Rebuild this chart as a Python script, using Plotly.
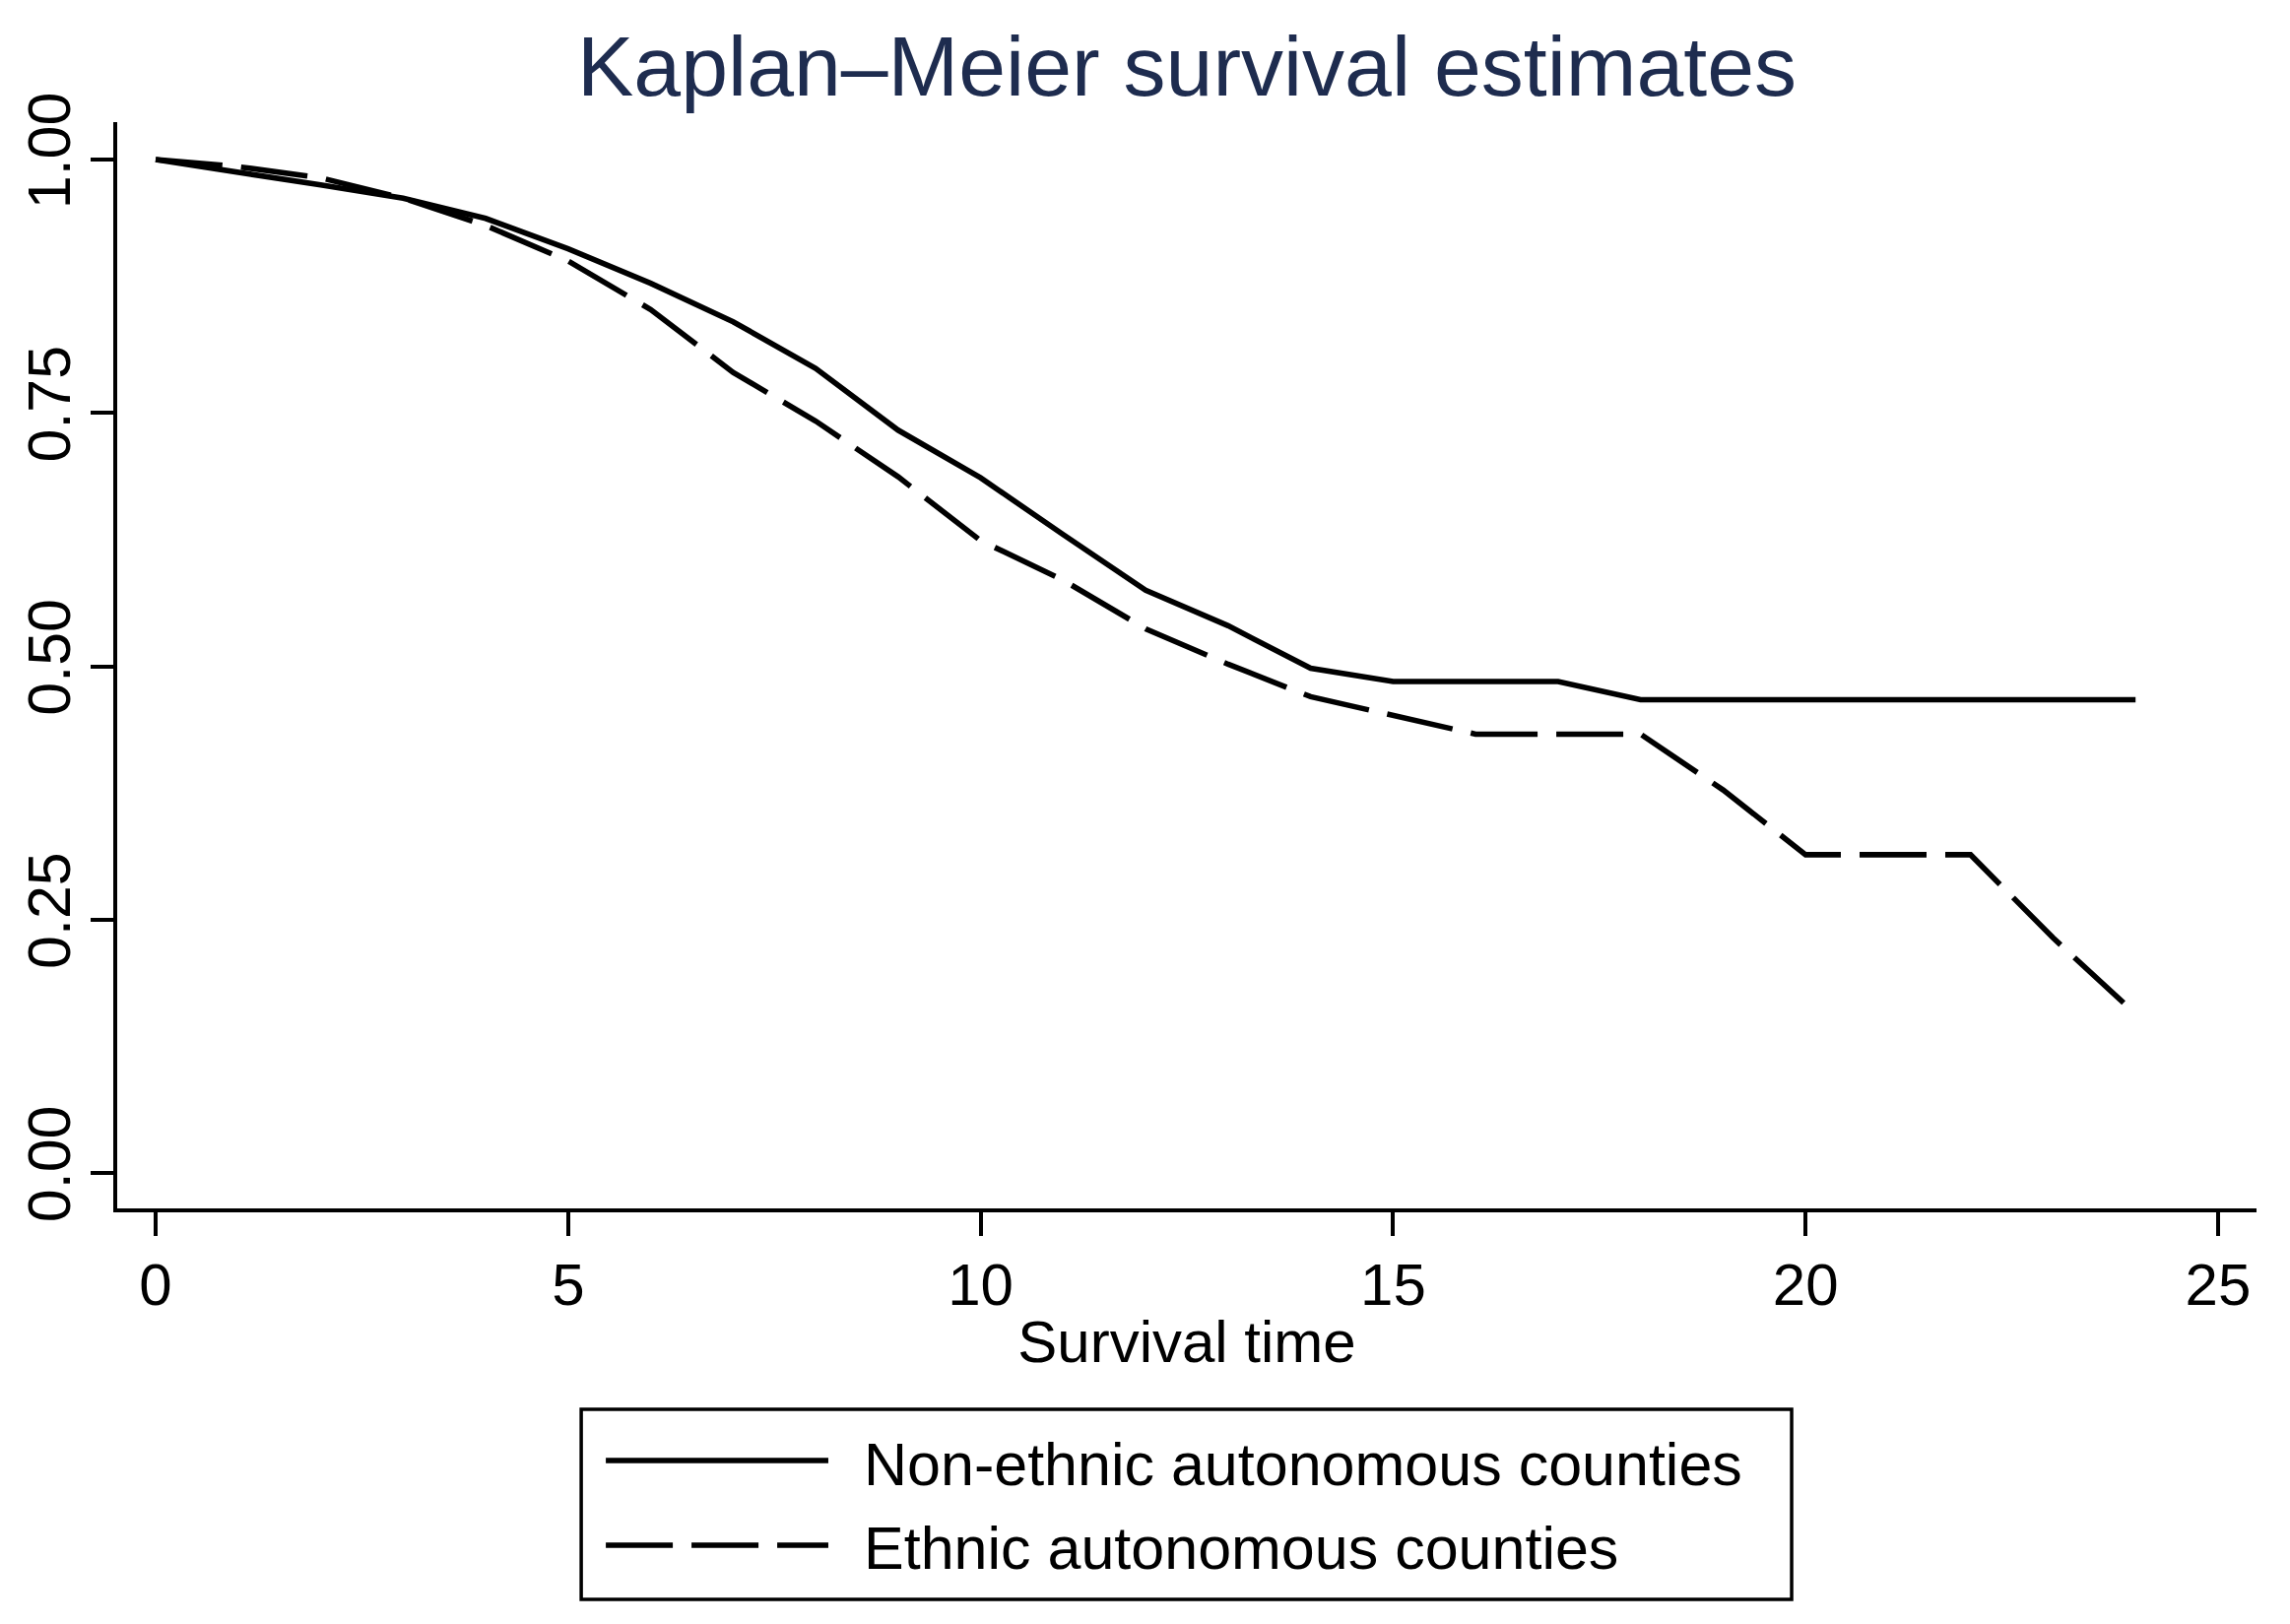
import plotly.graph_objects as go

# ---- data ----
time = list(range(0, 25))
non_ethnic = [1.000, 0.988, 0.975, 0.962, 0.942, 0.912, 0.878, 0.840, 0.794, 0.733,
              0.686, 0.630, 0.575, 0.540, 0.498, 0.485, 0.485, 0.485, 0.467, 0.467,
              0.467, 0.467, 0.467, 0.467, 0.467]
ethnic = [1.000, 0.993, 0.982, 0.962, 0.935, 0.900, 0.852, 0.790, 0.742, 0.687,
          0.624, 0.585, 0.537, 0.502, 0.470, 0.451, 0.433, 0.433, 0.433, 0.378,
          0.314, 0.314, 0.314, 0.232, 0.157]
series_names = ["Non-ethnic autonomous counties", "Ethnic autonomous counties"]
x_ticks = [0, 5, 10, 15, 20, 25]
y_ticks = [0, 0.25, 0.5, 0.75, 1.0]
title_text = "Kaplan–Meier survival estimates"
x_title = "Survival time"

FONT = "Arial, Liberation Sans, sans-serif"
DASH = "68px,19px"
LW = 5.6

fig = go.Figure()
fig.add_trace(go.Scatter(x=time, y=non_ethnic, mode="lines", name=series_names[0],
                         line=dict(color="black", width=LW), showlegend=False))
fig.add_trace(go.Scatter(x=time, y=ethnic, mode="lines", name=series_names[1],
                         line=dict(color="black", width=LW, dash=DASH), showlegend=False))

# custom legend (Stata-style box with long line samples)
lx0, lx1, ly0, ly1 = 0.2169, 0.7827, -0.3599, -0.1850
fig.add_shape(type="rect", xref="paper", yref="paper", x0=lx0, x1=lx1, y0=ly0, y1=ly1,
              line=dict(color="black", width=3.5), fillcolor="white")
rows_y = [-0.2321, -0.3101]
text_y = [-0.2357, -0.3128]
dashes = ["solid", DASH]
for i in range(2):
    fig.add_shape(type="line", xref="paper", yref="paper", x0=0.2284, x1=0.3324,
                  y0=rows_y[i], y1=rows_y[i], line=dict(color="black", width=LW, dash=dashes[i]))
    fig.add_annotation(xref="paper", yref="paper", x=0.3481, y=text_y[i], text=series_names[i],
                       showarrow=False, xanchor="left", yanchor="middle",
                       font=dict(family=FONT, size=61, color="black"))

fig.update_layout(
    width=2325, height=1649,
    paper_bgcolor="white", plot_bgcolor="white",
    margin=dict(l=111, r=42, t=116, b=430, autoexpand=False),
    title=dict(text=title_text, x=0.5, xref="paper", y=1 - 58.7 / 1649, yref="container",
               xanchor="center", yanchor="middle",
               font=dict(family=FONT, size=86, color="#1e2c4f")),
    font=dict(family=FONT, color="black"),
)
fig.update_xaxes(range=[-0.466, 25.466], tickvals=x_ticks, ticks="outside", ticklen=24,
                 tickwidth=3.5, tickcolor="black", showline=True, linecolor="black", linewidth=3.5,
                 showgrid=False, zeroline=False, tickfont=dict(family=FONT, size=60, color="black"),
                 ticklabelstandoff=-2,
                 title=dict(text=x_title, font=dict(family=FONT, size=60, color="black"), standoff=5))
fig.update_yaxes(range=[-0.035, 1.037], tickvals=y_ticks, tickformat=".2f", ticks="outside",
                 ticklen=23, tickwidth=3.5, tickcolor="black", showline=True, linecolor="black",
                 linewidth=3.5, showgrid=False, zeroline=False, tickangle=-90,
                 ticklabelstandoff=-3,
                 tickfont=dict(family=FONT, size=61, color="black"))

fig.write_html("out.html")
